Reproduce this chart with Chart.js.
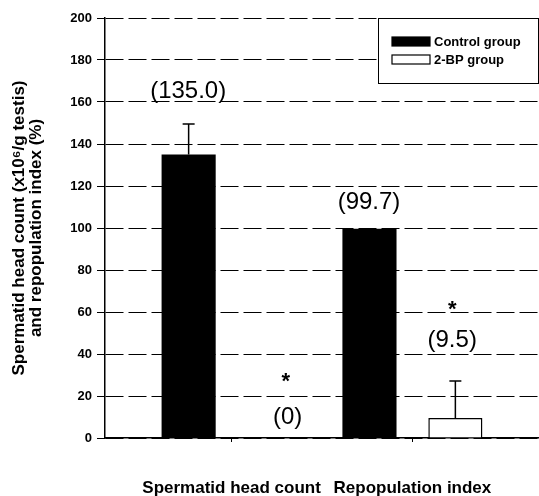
<!DOCTYPE html>
<html>
<head>
<meta charset="utf-8">
<script src="https://cdn.jsdelivr.net/npm/chart.js@4"></script>
<style>
  body { margin: 0; background: #fff; }
  #wrap { width: 539px; height: 496px; }
</style>
</head>
<body>
<div id="wrap"><canvas id="myChart" width="539" height="496"></canvas></div>
<script>
// data
const categories = ['Spermatid head count', 'Repopulation index'];
const categoryX = [1, 2];
const seriesNames = ['Control group', '2-BP group'];
const controlValues = [135.0, 99.7];
const bpValues = [0, 9.5];
const controlErrors = [14.5, 0];
const bpErrors = [0, 17.6];
const yTicks = [0, 20, 40, 60, 80, 100, 120, 140, 160, 180, 200];

// value labels and significance stars (x in category units, y in axis units)
const labelTexts = ['(135.0)', '(0)', '(99.7)', '(9.5)'];
const labelX = [0.76, 1.31, 1.76, 2.22];
const labelY = [165, 10, 112.4, 46.7];
const starX = [1.30, 2.22];
const starY = [30, 64];

const FONT = 'Liberation Sans, Arial, sans-serif';

const extras = {
    id: 'extras',
    afterDatasetsDraw(chart) {
        const ctx = chart.ctx;
        const xs = chart.scales.x, ys = chart.scales.y;

        // error bars
        const errs = [controlErrors, bpErrors];
        const vals = [controlValues, bpValues];
        ctx.save();
        ctx.strokeStyle = '#000';
        ctx.lineWidth = 1.5;
        errs.forEach((list, d) => {
            const meta = chart.getDatasetMeta(d);
            list.forEach((e, i) => {
                if (!e) return;
                const x = meta.data[i].x;
                const y0 = ys.getPixelForValue(vals[d][i]);
                const y1 = ys.getPixelForValue(vals[d][i] + e);
                ctx.beginPath();
                ctx.moveTo(x, y0);
                ctx.lineTo(x, y1);
                ctx.moveTo(x - 6, y1);
                ctx.lineTo(x + 6, y1);
                ctx.stroke();
            });
        });

        // value labels
        ctx.fillStyle = '#000';
        ctx.font = '24px ' + FONT;
        ctx.textAlign = 'center';
        ctx.textBaseline = 'middle';
        labelTexts.forEach((t, i) => {
            ctx.fillText(t, xs.getPixelForValue(labelX[i]), ys.getPixelForValue(labelY[i]));
        });

        // stars
        ctx.font = 'bold 22px ' + FONT;
        ctx.textBaseline = 'alphabetic';
        starX.forEach((sx, i) => {
            ctx.fillText('*', xs.getPixelForValue(sx), ys.getPixelForValue(starY[i]) + 22 * 0.57);
        });

        // legend box
        const area = chart.chartArea;
        const bw = 160, bh = 65;
        const bx = area.right - bw - 1, by = area.top;
        ctx.fillStyle = '#fff';
        ctx.fillRect(bx, by, bw, bh);
        ctx.lineWidth = 1;
        ctx.strokeStyle = '#000';
        ctx.strokeRect(bx + 0.5, by + 0.5, bw, bh);
        ctx.font = 'bold 13px ' + FONT;
        ctx.textAlign = 'left';
        ctx.textBaseline = 'middle';
        chart.data.datasets.forEach((ds, i) => {
            const ry = by + 19 + i * 18;
            ctx.fillStyle = ds.backgroundColor;
            ctx.fillRect(bx + 14, ry, 38, 9);
            ctx.lineWidth = 1.2;
            ctx.strokeRect(bx + 14, ry, 38, 9);
            ctx.fillStyle = '#000';
            ctx.fillText(ds.label, bx + 56, ry + 5);
        });
        ctx.restore();
    }
};

const ctx = document.getElementById('myChart').getContext('2d');
new Chart(ctx, {
    type: 'bar',
    data: {
        datasets: [
            {
                label: seriesNames[0],
                data: categoryX.map((x, i) => ({ x: x, y: controlValues[i] })),
                backgroundColor: '#000',
                borderColor: '#000',
                borderWidth: 0
            },
            {
                label: seriesNames[1],
                data: categoryX.map((x, i) => ({ x: x, y: bpValues[i] })),
                backgroundColor: '#fff',
                borderColor: '#000',
                borderWidth: 1.5
            }
        ]
    },
    options: {
        responsive: false,
        animation: false,
        categoryPercentage: 0.95,
        barPercentage: 0.63,
        layout: { padding: { top: 18, right: 0, left: 0, bottom: 0 } },
        plugins: {
            legend: { display: false },
            tooltip: { enabled: false }
        },
        scales: {
            x: {
                type: 'linear',
                offset: false,
                min: 0.3,
                max: 2.7,
                afterBuildTicks: scale => { scale.ticks = categoryX.map(v => ({ value: v })); },
                afterFit: scale => { scale.height = 58; },
                ticks: {
                    color: '#000',
                    font: { family: FONT, size: 17, weight: 'bold' },
                    padding: 36,
                    maxRotation: 0,
                    autoSkip: false,
                    callback: (v, i) => categories[i]
                },
                grid: { offset: false, drawOnChartArea: false, drawTicks: true, tickLength: 4, color: '#000' },
                border: { color: '#000', width: 1.5 }
            },
            y: {
                min: 0,
                max: 200,
                afterBuildTicks: scale => { scale.ticks = yTicks.map(v => ({ value: v })); },
                afterFit: scale => { scale.width = 105; },
                ticks: {
                    color: '#000',
                    font: { family: FONT, size: 13, weight: 'bold' },
                    padding: 5
                },
                grid: { color: '#000', lineWidth: 1, tickLength: 8, tickColor: '#000' },
                border: { color: '#000', width: 1.5, dash: [18, 5] },
                title: {
                    display: true,
                    text: ['Spermatid head count (x10\u2076/g testis)', 'and repopulation index (%)'],
                    color: '#000',
                    font: { family: FONT, size: 17, weight: 'bold', lineHeight: 1.0 },
                    padding: { top: 11, bottom: 0 }
                }
            }
        }
    },
    plugins: [extras]
});
</script>
</body>
</html>
